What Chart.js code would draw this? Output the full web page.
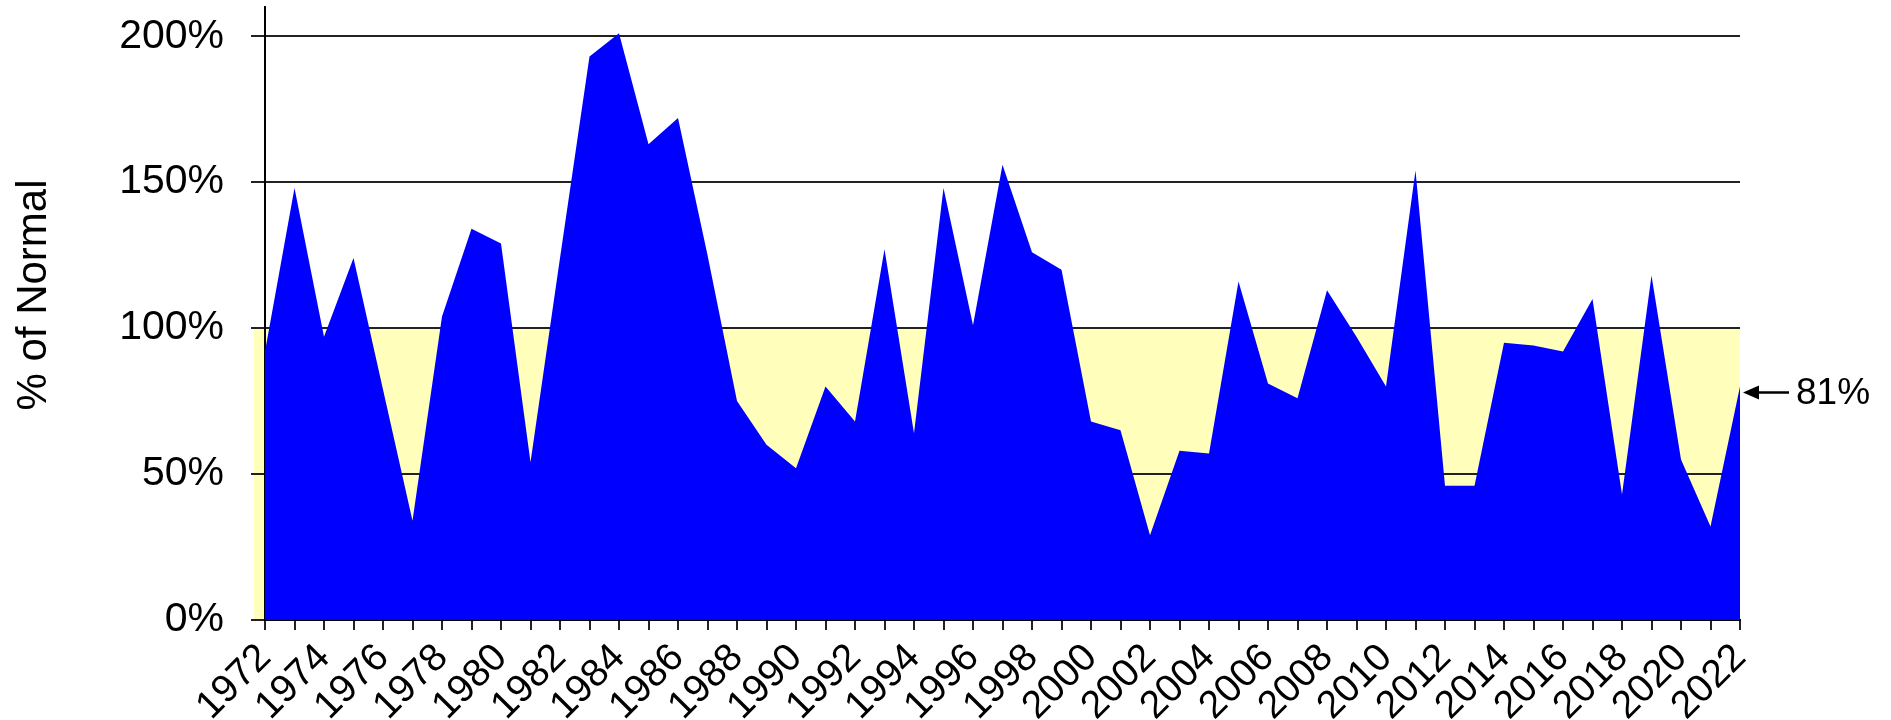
<!DOCTYPE html>
<html>
<head>
<meta charset="utf-8">
<style>
  html, body { margin: 0; padding: 0; background: #fff; }
  canvas { display: block; }
</style>
<script src="https://cdn.jsdelivr.net/npm/chart.js@4.4.0/dist/chart.umd.min.js"></script>
</head>
<body>
<canvas id="chart" width="1891" height="720"></canvas>
<script>
// years on the x axis
const years = [
  '1972', '1973', '1974', '1975', '1976', '1977', '1978', '1979', '1980', '1981',
  '1982', '1983', '1984', '1985', '1986', '1987', '1988', '1989', '1990', '1991',
  '1992', '1993', '1994', '1995', '1996', '1997', '1998', '1999', '2000', '2001',
  '2002', '2003', '2004', '2005', '2006', '2007', '2008', '2009', '2010', '2011',
  '2012', '2013', '2014', '2015', '2016', '2017', '2018', '2019', '2020', '2021',
  '2022'
];

// percent of normal
const pctOfNormal = [
  92, 148, 97, 124, 79, 34, 104, 134, 129, 54,
  124, 193, 201, 163, 172, 125, 75, 60, 52, 80,
  68, 127, 64, 148, 101, 156, 126, 120, 68, 65,
  29, 58, 57, 116, 81, 76, 113, 97, 80, 154,
  46, 46, 95, 94, 92, 110, 43, 118, 55, 32,
  80
];

const yTicks = [0, 50, 100, 150, 200];
const normalBand = [0, 100];
const yTitle = '% of Normal';
const lastLabel = '81%';

const FONT = '"Liberation Sans", Arial, sans-serif';

// yellow "below normal" band, drawn under the grid lines
const bandPlugin = {
  id: 'band',
  beforeDraw(chart) {
    const { ctx, chartArea, scales } = chart;
    const yTop = scales.y.getPixelForValue(normalBand[1]);
    const yBot = scales.y.getPixelForValue(normalBand[0]);
    ctx.save();
    ctx.fillStyle = '#FFFFBB';
    ctx.fillRect(chartArea.left - 11, yTop, chartArea.right - chartArea.left + 11, yBot - yTop);
    ctx.restore();
  }
};

// y title + arrow pointing at the last value
const notePlugin = {
  id: 'note',
  afterDraw(chart) {
    const { ctx, scales } = chart;
    ctx.save();
    ctx.fillStyle = '#000';
    ctx.font = '42px ' + FONT;
    ctx.translate(34, 295);
    ctx.rotate(-Math.PI / 2);
    ctx.textAlign = 'center';
    ctx.textBaseline = 'middle';
    ctx.fillText(yTitle, 0, 0);
    ctx.restore();

    const i = pctOfNormal.length - 1;
    const x = scales.x.getPixelForValue(i) + 3;
    const y = scales.y.getPixelForValue(pctOfNormal[i]) + 6;
    ctx.save();
    ctx.strokeStyle = '#000';
    ctx.fillStyle = '#000';
    ctx.lineWidth = 2.5;
    ctx.beginPath();
    ctx.moveTo(x + 12, y);
    ctx.lineTo(x + 46, y);
    ctx.stroke();
    ctx.beginPath();
    ctx.moveTo(x, y);
    ctx.lineTo(x + 16, y - 7);
    ctx.lineTo(x + 16, y + 7);
    ctx.closePath();
    ctx.fill();
    ctx.font = '37px ' + FONT;
    ctx.textAlign = 'left';
    ctx.textBaseline = 'middle';
    ctx.fillText(lastLabel, x + 53, y + 1);
    ctx.restore();
  }
};

new Chart(document.getElementById('chart'), {
  type: 'line',
  data: {
    labels: years,
    datasets: [{
      label: yTitle,
      data: pctOfNormal,
      fill: 'origin',
      backgroundColor: '#0000FF',
      borderColor: '#0000FF',
      borderWidth: 0,
      pointRadius: 0,
      tension: 0
    }]
  },
  options: {
    responsive: false,
    animation: false,
    devicePixelRatio: 1,
    layout: { padding: { left: 0, right: 151, top: 7, bottom: 0 } },
    plugins: {
      legend: { display: false },
      tooltip: { enabled: false }
    },
    scales: {
      x: {
        type: 'category',
        offset: false,
        grid: {
          drawOnChartArea: false,
          drawTicks: true,
          tickLength: 10,
          color: '#222',
          lineWidth: 2
        },
        border: { display: true, color: '#000', width: 2 },
        ticks: {
          autoSkip: false,
          minRotation: 45,
          maxRotation: 45,
          padding: 5,
          color: '#000',
          font: { family: FONT, size: 39 },
          callback: (v, i) => (i % 2 === 0 ? years[i] : '')
        },
        afterFit: (s) => {
          s.height = 100;
          s.paddingLeft = 0;
          s.paddingRight = 0;
        }
      },
      y: {
        min: 0,
        max: 210,
        grid: {
          color: '#222',
          lineWidth: 2,
          tickLength: 14
        },
        border: { display: true, color: '#000', width: 2 },
        ticks: {
          stepSize: 50,
          padding: 27,
          color: '#000',
          font: { family: FONT, size: 41 },
          callback: (v) => v + '%'
        },
        afterBuildTicks: (s) => {
          s.ticks = yTicks.map(v => ({ value: v }));
        },
        afterFit: (s) => {
          s.width = 265;
          s.paddingTop = 0;
          s.paddingBottom = 0;
        }
      }
    }
  },
  plugins: [bandPlugin, notePlugin]
});
</script>
</body>
</html>
